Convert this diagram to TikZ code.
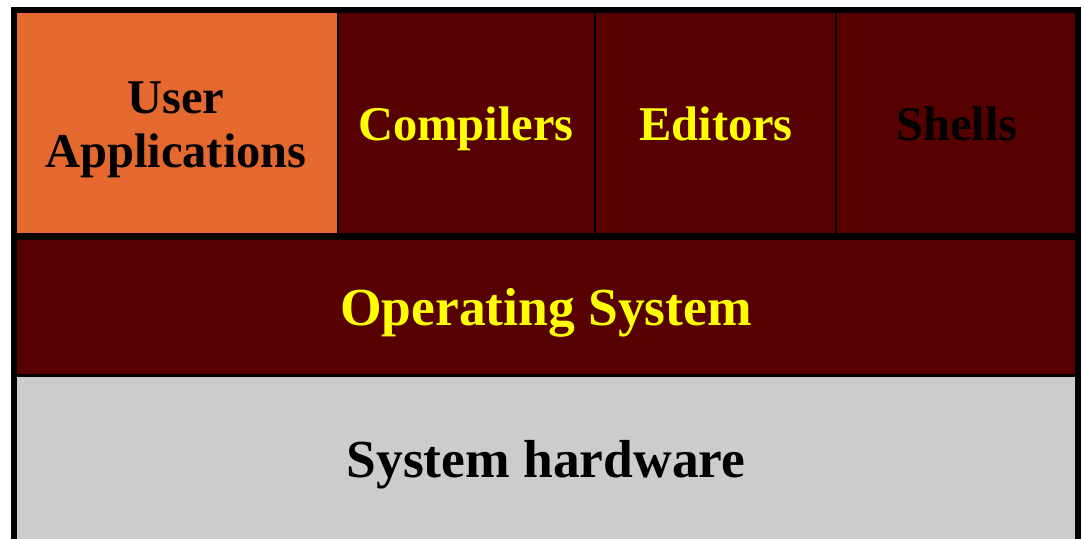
\documentclass[tikz,border=0pt]{standalone}
\usepackage{fontspec}
\setmainfont{Liberation Serif}
\definecolor{apporange}{HTML}{E5692F}
\definecolor{osred}{HTML}{560000}
\definecolor{hwgray}{HTML}{CCCCCC}
\definecolor{labelyellow}{HTML}{FFFF00}
\begin{document}
\begin{tikzpicture}[x=1pt,y=-1pt,
  toplbl/.style={inner sep=0pt, anchor=base, align=center,
    font=\bfseries\fontsize{48.5}{54}\selectfont},
  biglbl/.style={inner sep=0pt, anchor=base, align=center,
    font=\bfseries\fontsize{53.5}{60}\selectfont},
  yellow text/.style={text=labelyellow},
  black text/.style={text=black}]
\useasboundingbox (0,0) rectangle (1084,538);
\clip (0,0) rectangle (1084,538);
% layer fills
\fill[apporange] (14,10) rectangle (338,236);
\fill[osred] (338,10) rectangle (1078,236);
\fill[osred] (14,236) rectangle (1078,375);
\fill[hwgray] (14,375) rectangle (1078,560);
% dividers between the tools
\draw[line width=2] (338,10) -- (338,236);
\draw[line width=2] (595,10) -- (595,236);
\draw[line width=2] (836,10) -- (836,236);
% layer boundaries
\draw[line width=7] (14,236) -- (1078,236);
\draw[line width=3] (14,375) -- (1078,375);
% outer frame
\draw[line width=6] (14,10) rectangle (1078,560);
% labels (base anchor sits on the last line of a two-line label)
\node[toplbl, black text] (apps) at (176,167) {User\\Applications};
\node[toplbl, yellow text] (comp) at (466,140) {Compilers};
\node[toplbl, yellow text] (edit) at (716,140) {Editors};
\node[toplbl, black text] (shell) at (957,140) {Shells};
\node[biglbl, yellow text] (os) at (546,325) {Operating System};
\node[biglbl, black text] (hw) at (546,477) {System hardware};
\end{tikzpicture}
\end{document}
